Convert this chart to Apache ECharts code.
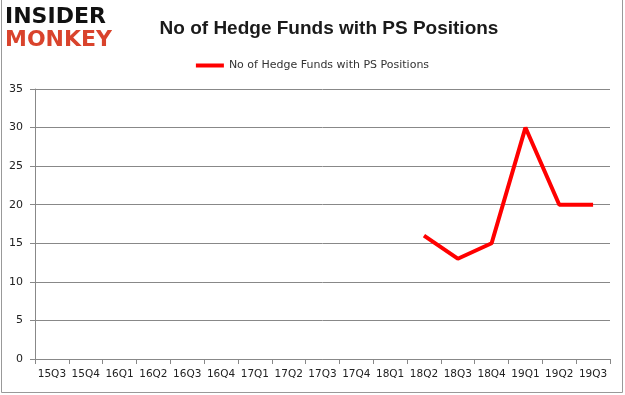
<!DOCTYPE html>
<html><head><meta charset="utf-8">
<script src="https://cdn.jsdelivr.net/npm/echarts@6/dist/echarts.min.js"></script>
<style>html,body{margin:0;padding:0;background:#fff}#c{width:625px;height:395px}</style>
</head><body><div id="c"></div>
<script>
const categories = ['15Q3','15Q4','16Q1','16Q2','16Q3','16Q4','17Q1','17Q2','17Q3','17Q4','18Q1','18Q2','18Q3','18Q4','19Q1','19Q2','19Q3'];
const funds = [null,null,null,null,null,null,null,null,null,null,null,16,13,15,30,20,20];
const seriesName = 'No of Hedge Funds with PS Positions';
const chart = echarts.init(document.getElementById('c'));
chart.setOption({
  animation:false,
  title:{text:'No of Hedge Funds with PS Positions',left:324,top:14,textAlign:'center',
    textStyle:{fontFamily:'Liberation Sans',fontWeight:'bold',fontSize:19,color:'#1a1a1a'}},
  legend:{top:55,left:'center',itemWidth:28,itemHeight:4,icon:'rect',
    textStyle:{fontFamily:'DejaVu Sans',fontSize:11,color:'#333'},data:[seriesName]},
  grid:{left:35,right:15,top:89,bottom:36},
  xAxis:{type:'category',data:categories,boundaryGap:true,
    axisLine:{lineStyle:{color:'#888'}},axisTick:{show:true,alignWithLabel:false,length:5,lineStyle:{color:'#888'}},
    axisLabel:{fontFamily:'DejaVu Sans',fontSize:10.5,color:'#222',margin:10,interval:0}},
  yAxis:{type:'value',min:0,max:35,interval:5,
    axisLine:{show:true,lineStyle:{color:'#888'}},axisTick:{show:true,length:5,lineStyle:{color:'#888'}},
    splitLine:{lineStyle:{color:'#888'}},
    axisLabel:{fontFamily:'DejaVu Sans',fontSize:11,color:'#222',margin:12}},
  graphic:[
    {type:'text',left:5,top:6,style:{text:'INSIDER',font:'bold 22px "DejaVu Sans"',fill:'#111'}},
    {type:'text',left:5,top:29,style:{text:'MONKEY',font:'bold 22px "DejaVu Sans"',fill:'#d9432c'}},
    {type:'line',shape:{x1:1.5,y1:0,x2:1.5,y2:392.5},style:{stroke:'#999',lineWidth:1}},
    {type:'line',shape:{x1:622.5,y1:0,x2:622.5,y2:392.5},style:{stroke:'#999',lineWidth:1}},
    {type:'line',shape:{x1:1.5,y1:392.5,x2:622.5,y2:392.5},style:{stroke:'#999',lineWidth:1}}
  ],
  series:[{name:seriesName,type:'line',data:funds,symbol:'none',connectNulls:false,
    lineStyle:{color:'#ff0000',width:4},itemStyle:{color:'#ff0000'}}]
});
</script></body></html>
